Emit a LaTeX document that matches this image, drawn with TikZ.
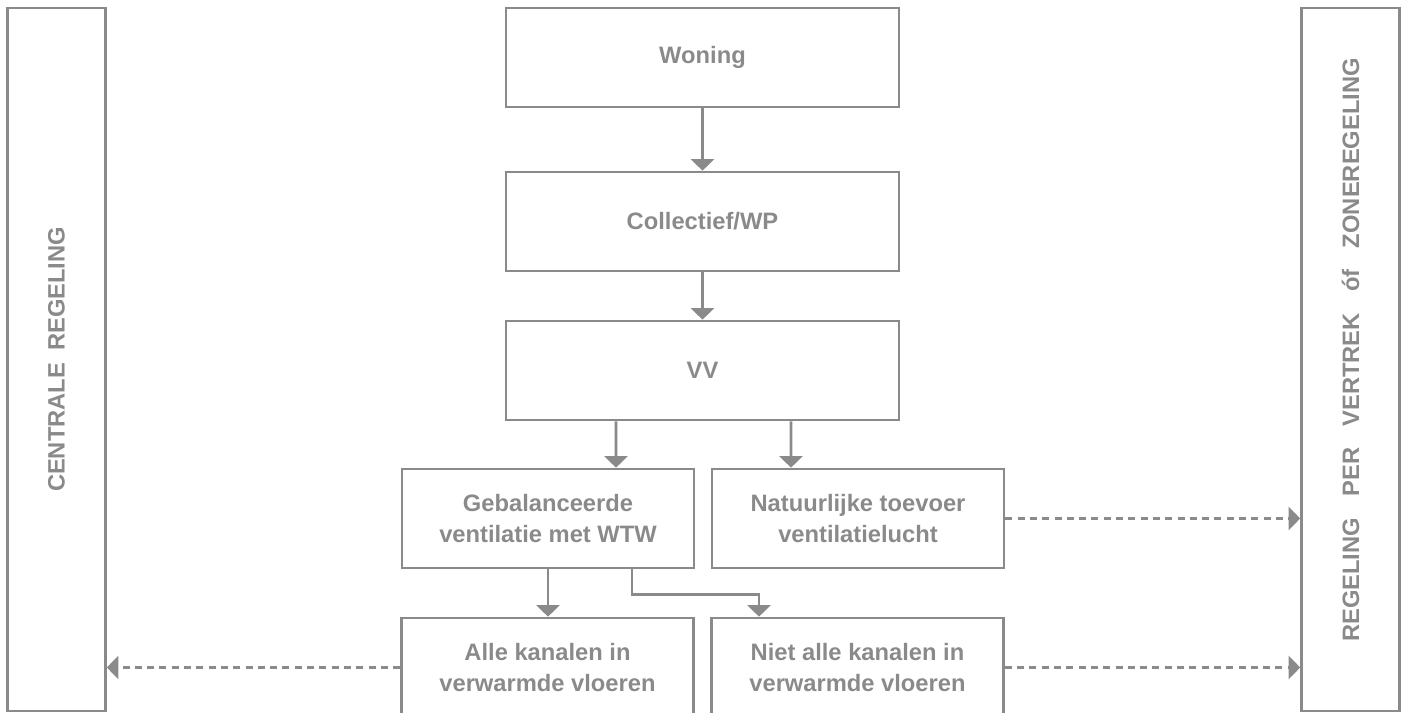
\documentclass[tikz,border=0pt]{standalone}
\usepackage{fontspec}
\setmainfont{Liberation Sans}
\usepackage{tikz}
\usetikzlibrary{arrows.meta}
\definecolor{line}{HTML}{8A8A8A}
\definecolor{txt}{HTML}{8A8A8A}

\begin{document}
\begin{tikzpicture}[
    block/.style={
        rectangle, draw=line, text=txt,
        minimum width=7.86cm, minimum height=1.98cm,
        align=center, font=\fontsize{13.5}{18}\selectfont\bfseries, line width=1.5pt,
    },
    smallblock/.style={block, minimum width=5.84cm},
    sideblock/.style={block, minimum width=1.96cm, minimum height=14.06cm},
    arrow/.style={-{Triangle[width=0.46cm,length=0.23cm]}, line width=1.5pt, color=line},
    dasharrow/.style={arrow, dash pattern=on 4pt off 3pt},
]
\useasboundingbox (0,0) rectangle (28.14,14.26);
\clip (0,0) rectangle (28.14,14.26);

% Boxes
\node[block] (woning) at (14.05,13.11) {Woning};
\node[block] (coll) at (14.05,9.83) {Collectief/WP};
\node[block] (vv) at (14.05,6.85) {VV};

\node[smallblock] (gebal) at (10.96,3.89) {Gebalanceerde\\ventilatie met WTW};
\node[smallblock] (natuur) at (17.16,3.89) {Natuurlijke toevoer\\ventilatielucht};

\node[smallblock] (alle) at (10.95,0.91) {Alle kanalen in\\verwarmde vloeren};
\node[smallblock] (niet) at (17.15,0.91) {Niet alle kanalen in\\verwarmde vloeren};

% Regeling
\node[sideblock] (lbox) at (1.13,7.07) {\rotatebox{90}{CENTRALE\hspace{0.5em}REGELING}};
\node[sideblock] (rbox) at (27.01,7.07) {\rotatebox{90}{\hspace*{0.8em}REGELING\hspace{0.9em}PER\hspace{0.9em}VERTREK\hspace{0.9em}óf\hspace{0.9em}ZONEREGELING}};

% Pijlen
\draw[arrow] (woning) -- (coll);
\draw[arrow] (coll) -- (vv);
\draw[arrow] ([xshift=-1.73cm]vv.south) -- ([xshift=1.36cm]gebal.north);
\draw[arrow] ([xshift=1.77cm]vv.south) -- ([xshift=-1.34cm]natuur.north);
\draw[arrow] (gebal.south) -- (gebal.south |- alle.north);
\draw[arrow] ([xshift=1.68cm]gebal.south) -- ++(0,-0.5) -| ([xshift=-1.97cm]niet.north);

\draw[dasharrow] (natuur.east) -- (natuur.east -| rbox.west);
\draw[dasharrow] (niet.east) -- (niet.east -| rbox.west);
\draw[dasharrow] (alle.west) -- (alle.west -| lbox.east);

\end{tikzpicture}
\end{document}
